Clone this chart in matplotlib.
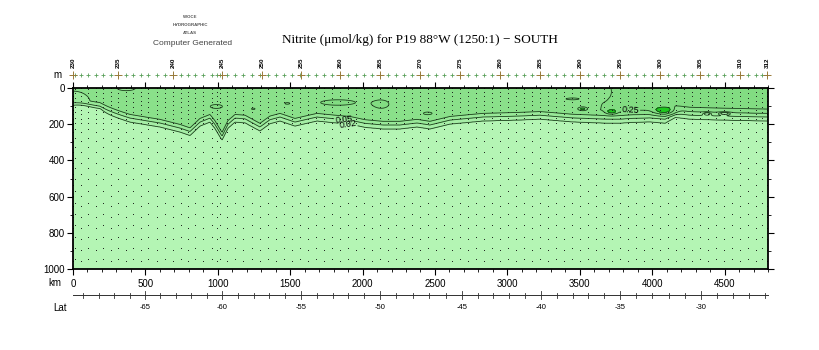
import numpy as np
import matplotlib
matplotlib.use("Agg")
import matplotlib.pyplot as plt
from matplotlib.ticker import MultipleLocator

# station positions along the section (km) and labelled stations
station_km = [0, 14, 55, 104, 159, 207, 262, 311, 366, 414, 470, 518, 580, 635,
              690, 746, 794, 843, 898, 960, 994, 1015, 1064, 1119, 1174, 1236,
              1291, 1346, 1400, 1457, 1512, 1567, 1622, 1678, 1733, 1790, 1844,
              1899, 1954, 2010, 2065, 2120, 2175, 2231, 2286, 2341, 2396, 2452,
              2507, 2562, 2617, 2673, 2728, 2783, 2838, 2894, 2949, 3004, 3059,
              3115, 3170, 3225, 3280, 3336, 3391, 3446, 3501, 3557, 3612, 3667,
              3722, 3778, 3833, 3888, 3943, 3999, 4054, 4109, 4164, 4220, 4275,
              4330, 4385, 4441, 4496, 4551, 4606, 4661, 4717, 4758, 4793]
label_num = [230, 235, 240, 245, 250, 255, 260, 265, 270, 275, 280, 285, 290,
             295, 300, 305, 310, 312]
label_km = [0, 311, 690, 1029, 1305, 1574, 1844, 2120, 2396, 2673, 2949, 3225,
            3501, 3778, 4054, 4330, 4606, 4793]

# bottle depths (m), alternating between neighbouring casts
bottles_a = [5, 25, 50, 75, 100, 125, 150, 175, 200, 250, 300, 360, 420, 480,
             540, 600, 660, 720, 780, 840, 900, 960]
bottles_b = [10, 35, 60, 85, 110, 140, 170, 200, 230, 280, 330, 390, 450, 510,
             575, 640, 700, 760, 830, 890, 950]

# depth of the 0.05 isoline (base of the nitrite layer)
bound_km = [0, 186, 290, 394, 600, 739, 808, 877, 946, 980, 1029, 1070, 1119,
            1188, 1291, 1360, 1430, 1533, 1602, 1685, 1809, 1913, 2017, 2141,
            2258, 2376, 2465, 2604, 2831, 3066, 3225, 3453, 3688, 3780, 3847,
            3985, 4090, 4160, 4261, 4489, 4800]
bound_m = [133, 115, 140, 166, 193, 221, 240, 188, 166, 200, 265, 200, 166,
           170, 215, 175, 160, 188, 175, 160, 170, 177, 195, 204, 204, 193,
           204, 177, 160, 155, 150, 165, 172, 172, 168, 165, 172, 140, 150,
           155, 160]

# nitrite in the surface layer
upper_km = [0, 3550, 3700, 4800]
upper_val = [0.18, 0.18, 0.29, 0.29]

# local maxima / minima inside the layer
bump_km = [0, 370, 1830, 2130, 2450, 990, 1245, 1480, 3450, 3680, 3520, 3720,
           4080, 4380, 4500]
bump_m = [80, 0, 80, 90, 140, 102, 115, 85, 60, 20, 115, 130, 122, 142, 140]
bump_wkm = [170, 130, 200, 80, 50, 70, 25, 30, 90, 40, 25, 35, 60, 25, 40]
bump_wm = [90, 30, 25, 35, 12, 18, 8, 8, 10, 45, 8, 12, 18, 8, 8]
bump_amp = [-0.13, -0.1, 0.1, 0.1, 0.1, 0.1, 0.09, 0.09, 0.09, -0.1, 0.45,
            0.45, 0.5, -0.1, -0.1]

levels = [0, 0.02, 0.05, 0.1, 0.25, 0.5, 2.0]
fill_colors = ['#b4f5b4', '#a6eea6', '#98e898', '#8ae08a', '#82dc82', '#1ec81e']
# isoline labels: level -> position (km, m)
label_at = {0.02: (1900, 197), 0.05: (1870, 177), 0.25: (3850, 130)}

lat_vals = [-65, -60, -55, -50, -45, -40, -35, -30]
lat_km = [497, 1029, 1574, 2120, 2686, 3230, 3780, 4335]

# gridded field
x = np.linspace(0, 4800, 961)
z = np.linspace(0, 1000, 401)
X, Z = np.meshgrid(x, z)
zb = np.interp(x, bound_km, bound_m)
u = np.interp(x, upper_km, upper_val)
off = Z - zb[None, :]
below = np.interp(off, [-20, 0, 22, 50, 1000], [0.1, 0.05, 0.02, 0.008, 0.005])
above = 0.1 + (u[None, :] - 0.1) * np.clip((-20 - off) / 30, 0, 1)
field = np.where(off < -20, above, below)
for bx, bz, wx, wz, a in zip(bump_km, bump_m, bump_wkm, bump_wm, bump_amp):
    field = field + a * np.exp(-((X - bx) / wx) ** 2 - ((Z - bz) / wz) ** 2)
field = np.clip(field, 0.001, None)

plt.rcParams['font.family'] = ['Liberation Sans', 'DejaVu Sans']
fig = plt.figure(figsize=(8.2, 3.5), dpi=100)
ax = fig.add_axes([0.089, 0.2314, 0.8476, 0.5171])

ax.contourf(X, Z, field, levels=levels, colors=fill_colors)
for lev in levels[1:-1]:
    cs = ax.contour(X, Z, field, levels=[lev], colors='#1c401c',
                    linewidths=0.6)
    if lev in label_at:
        ax.clabel(cs, manual=[label_at[lev]], fontsize=6.5, colors='k',
                  inline=True, inline_spacing=1, fmt='%g')

# sample positions
for i, s in enumerate(station_km):
    d = bottles_a if i % 2 == 0 else bottles_b
    ax.plot([s] * len(d), d, linestyle='none', marker=',', color='#202820')

ax.set_xlim(0, 4800)
ax.set_ylim(1000, 0)
ax.set_yticks([0, 200, 400, 600, 800, 1000])
ax.yaxis.set_minor_locator(MultipleLocator(100))
ax.set_xticks([0, 500, 1000, 1500, 2000, 2500, 3000, 3500, 4000, 4500])
ax.xaxis.set_minor_locator(MultipleLocator(100))
ax.tick_params(axis='both', which='major', direction='out', length=4,
               width=0.8, labelsize=7, pad=2)
ax.tick_params(axis='both', which='minor', direction='out', length=2.5,
               width=0.6)
ax.tick_params(top=True, right=True, which='both')
ax.tick_params(axis='x', pad=3.5)
for sp in ax.spines.values():
    sp.set_linewidth(1.3)

tr = ax.get_xaxis_transform()
ax.text(-0.022, 1.072, 'm', transform=ax.transAxes, fontsize=7,
        ha='center', va='center')
ax.text(-0.026, -0.077, 'km', transform=ax.transAxes, fontsize=7,
        ha='center', va='center')
ax.text(-0.019, -0.215, 'Lat', transform=ax.transAxes, fontsize=7,
        ha='center', va='center')

# station crosses and numbers above the frame
ax.plot(station_km, [1.072] * len(station_km), transform=tr, linestyle='none',
        marker='+', markersize=3.5, markeredgewidth=0.6, color='#5aa05a',
        clip_on=False)
ax.plot(label_km, [1.072] * len(label_km), transform=tr, linestyle='none',
        marker='+', markersize=6, markeredgewidth=0.7, color='#9a7a3a',
        clip_on=False)
for n, k in zip(label_num, label_km):
    ax.text(k, 1.14, str(n), transform=tr, rotation=90, fontsize=4.5,
            fontweight='bold', ha='center', va='center')

# latitude scale below the km axis
ax.plot([0, 4800], [-0.144, -0.144], transform=tr, color='#303030',
        linewidth=0.7, clip_on=False)
for lat in range(-69, -25):
    if lat < -65:
        k = lat_km[0] + (lat + 65) * (lat_km[1] - lat_km[0]) / 5
    elif lat > -30:
        k = lat_km[-1] + (lat + 30) * (lat_km[-1] - lat_km[-2]) / 5
    else:
        k = np.interp(lat, lat_vals, lat_km)
    if 0 <= k <= 4800:
        h = 0.022 if lat % 5 == 0 else 0.014
        ax.plot([k, k], [-0.144 - h, -0.144 + h], transform=tr,
                color='#303030', linewidth=0.6, clip_on=False)
for lat, k in zip(lat_vals, lat_km):
    ax.text(k, -0.215, str(lat), transform=tr, fontsize=5.5, ha='center',
            va='center')

fig.text(0.512, 0.886, 'Nitrite (\u03bcmol/kg) for P19 88\u00b0W (1250:1) \u2212 SOUTH',
         family=['Liberation Serif', 'DejaVu Serif'], fontsize=9.5,
         ha='center', va='center')
fig.text(0.232, 0.951, 'WOCE', fontsize=3.2, fontweight='bold',
         color='#555555', ha='center', va='center')
fig.text(0.232, 0.928, 'HYDROGRAPHIC', fontsize=3.2, fontweight='bold',
         color='#555555', ha='center', va='center')
fig.text(0.232, 0.905, 'ATLAS', fontsize=3.2, fontweight='bold',
         color='#555555', ha='center', va='center')
fig.text(0.235, 0.877, 'Computer Generated', fontsize=6, color='#444444',
         ha='center', va='center')

fig.savefig('out.png', dpi=100)
